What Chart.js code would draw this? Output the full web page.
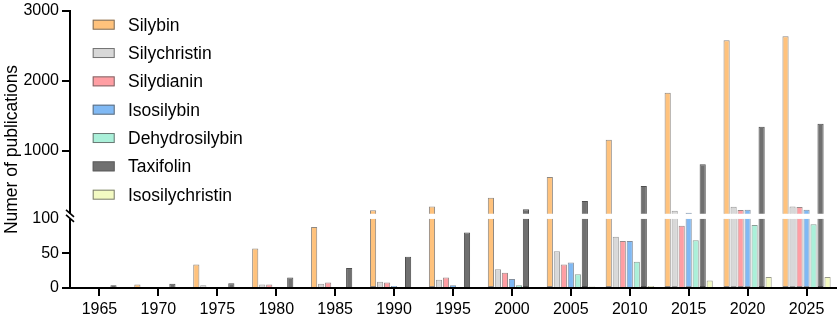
<!DOCTYPE html>
<html><head><meta charset="utf-8">
<script src="https://cdn.jsdelivr.net/npm/chart.js@4.4.0/dist/chart.umd.min.js"></script>
<style>html,body{margin:0;padding:0;background:#fff;}#wrap{width:837px;height:316px;}</style>
</head><body><div id="wrap"><canvas id="c" width="837" height="316"></canvas></div>
<script>
const years = ['1965','1970','1975','1980','1985','1990','1995','2000','2005','2010','2015','2020','2025'];
const seriesNames = ['Silybin','Silychristin','Silydianin','Isosilybin','Dehydrosilybin','Taxifolin','Isosilychristin'];
const silybin         = [0, 5, 34, 57, 88, 150, 205, 330, 627, 1160, 1830, 2580, 2640];
const silychristin    = [0, 0, 4, 5, 6, 9, 12, 27, 53, 74, 142, 200, 205];
const silydianin      = [0, 0, 0, 5, 8, 8, 15, 22, 34, 68, 90, 155, 197];
const isosilybin      = [0, 0, 0, 0, 0, 3, 4, 13, 37, 68, 114, 157, 157];
const dehydrosilybin  = [0, 0, 0, 0, 0, 0, 0, 4, 20, 38, 69, 91, 92];
const taxifolin       = [4, 6, 7, 15, 29, 45, 80, 166, 284, 496, 807, 1345, 1387];
const isosilychristin = [0, 0, 0, 0, 0, 0, 0, 0, 2, 3, 11, 16, 16];
const lowerTicks = [0, 50, 100];
const upperTicks = [1000, 2000, 3000];
const BREAK = 100;
const TOP_MAX = 3000;

const seriesValues = [silybin, silychristin, silydianin, isosilybin, dehydrosilybin, taxifolin, isosilychristin];
const fills = ['#FFC27C','#D8D8D8','#FF9EA3','#80B9F4','#AAF0D9','#707070','#F3FAC2'];
const edges = ['rgba(95,85,75,0.7)','rgba(110,110,110,0.7)','rgba(110,85,85,0.7)','rgba(80,95,115,0.7)','rgba(90,115,105,0.7)','rgba(60,60,60,0.9)','rgba(110,110,90,0.7)'];

const datasets = [];
seriesValues.forEach((vals, i) => {
  const common = {
    stack: 's' + i,
    backgroundColor: fills[i],
    borderColor: edges[i],
    borderWidth: 1,
    categoryPercentage: 0.832,
    barPercentage: 0.88
  };
  datasets.push(Object.assign({
    label: seriesNames[i],
    data: vals.map(v => v > 0 ? Math.min(v, BREAK) : null),
    yAxisID: 'yBot',
    borderSkipped: (c) => (c.raw !== null && c.raw >= BREAK) ? 'end' : 'start'
  }, common));
  datasets.push(Object.assign({
    label: seriesNames[i] + ' ',
    data: vals.map(v => v > BREAK ? v : null),
    yAxisID: 'yTop',
    borderSkipped: 'start'
  }, common));
});

const FONT = 'Liberation Sans, Arial, sans-serif';

const deco = {
  id: 'deco',
  afterDraw(chart) {
    const ctx = chart.ctx;
    const ca = chart.chartArea;
    const yTop = chart.scales.yTop, yBot = chart.scales.yBot;
    const yA = yTop.bottom;
    const yB = yBot.getPixelForValue(BREAK);
    const ym = (yA + yB) / 2;
    const x = ca.left;
    ctx.save();
    ctx.fillStyle = '#fff';
    ctx.fillRect(x - 2, yA, 4, yB - yA);
    ctx.strokeStyle = '#000';
    ctx.lineWidth = 1.6;
    ctx.beginPath();
    ctx.moveTo(x - 4, ym - 6.5); ctx.lineTo(x + 4, ym + 0.5);
    ctx.moveTo(x - 4, ym - 1.5); ctx.lineTo(x + 4, ym + 5.5);
    ctx.stroke();
    ctx.font = '17.5px ' + FONT;
    ctx.textBaseline = 'middle';
    ctx.textAlign = 'left';
    seriesNames.forEach((name, i) => {
      const cy = ca.top + 13.7 + i * 28.33;
      const bx = ca.left + 22.7;
      ctx.fillStyle = fills[i];
      ctx.fillRect(bx, cy - 5, 22, 10);
      ctx.strokeStyle = 'rgba(90,90,90,0.8)';
      ctx.lineWidth = 1;
      ctx.strokeRect(bx + 0.5, cy - 4.5, 21, 9);
      ctx.fillStyle = '#000';
      ctx.fillText(name, ca.left + 58, cy + 1);
    });
    ctx.restore();
  }
};

const plainTick = (v) => String(v);

new Chart(document.getElementById('c'), {
  type: 'bar',
  data: { labels: years, datasets },
  plugins: [deco],
  options: {
    responsive: false,
    animation: false,
    devicePixelRatio: 1,
    layout: { padding: { top: 8, right: 1, bottom: 0, left: 0 } },
    plugins: {
      legend: { display: false },
      tooltip: { enabled: false },
      title: {
        display: true,
        position: 'left',
        fullSize: false,
        text: 'Numer of publications',
        color: '#000',
        font: { family: FONT, size: 17.5, weight: 'normal' },
        padding: { top: 2, bottom: 0 }
      }
    },
    scales: {
      x: {
        type: 'category',
        offset: true,
        grid: { display: true, drawOnChartArea: false, offset: false, tickLength: 8, color: '#000', lineWidth: 2 },
        border: { display: true, color: '#000', width: 2 },
        ticks: { color: '#000', font: { family: FONT, size: 16, lineHeight: 1 }, padding: 6, autoSkip: false, maxRotation: 0 },
        afterFit(s) { s.height = 28; }
      },
      yTop: {
        type: 'linear',
        position: 'left',
        stack: 'v',
        stackWeight: 205,
        weight: 1,
        stacked: false,
        min: BREAK,
        max: TOP_MAX,
        grid: { display: true, drawOnChartArea: false, tickLength: 8, color: '#000', lineWidth: 2 },
        border: { display: true, color: '#000', width: 2 },
        ticks: { color: '#000', font: { family: FONT, size: 16, lineHeight: 1 }, padding: 3, callback: plainTick },
        afterBuildTicks(s) { s.ticks = upperTicks.map(v => ({ value: v })); },
        afterFit(s) { s.width = 47; }
      },
      yBot: {
        type: 'linear',
        position: 'left',
        stack: 'v',
        stackWeight: 75,
        weight: 0,
        stacked: false,
        min: 0,
        max: BREAK + 5 / 0.7,
        grid: {
          display: true, drawOnChartArea: false, tickLength: 8, lineWidth: 2,
          color: (c) => (c.tick && c.tick.value === BREAK) ? 'rgba(0,0,0,0)' : '#000'
        },
        border: { display: true, color: '#000', width: 2 },
        ticks: { color: '#000', font: { family: FONT, size: 16, lineHeight: 1 }, padding: 3, callback: plainTick },
        afterBuildTicks(s) { s.ticks = lowerTicks.map(v => ({ value: v })); },
        afterFit(s) { s.width = 47; }
      }
    }
  }
});
</script>
</body></html>
